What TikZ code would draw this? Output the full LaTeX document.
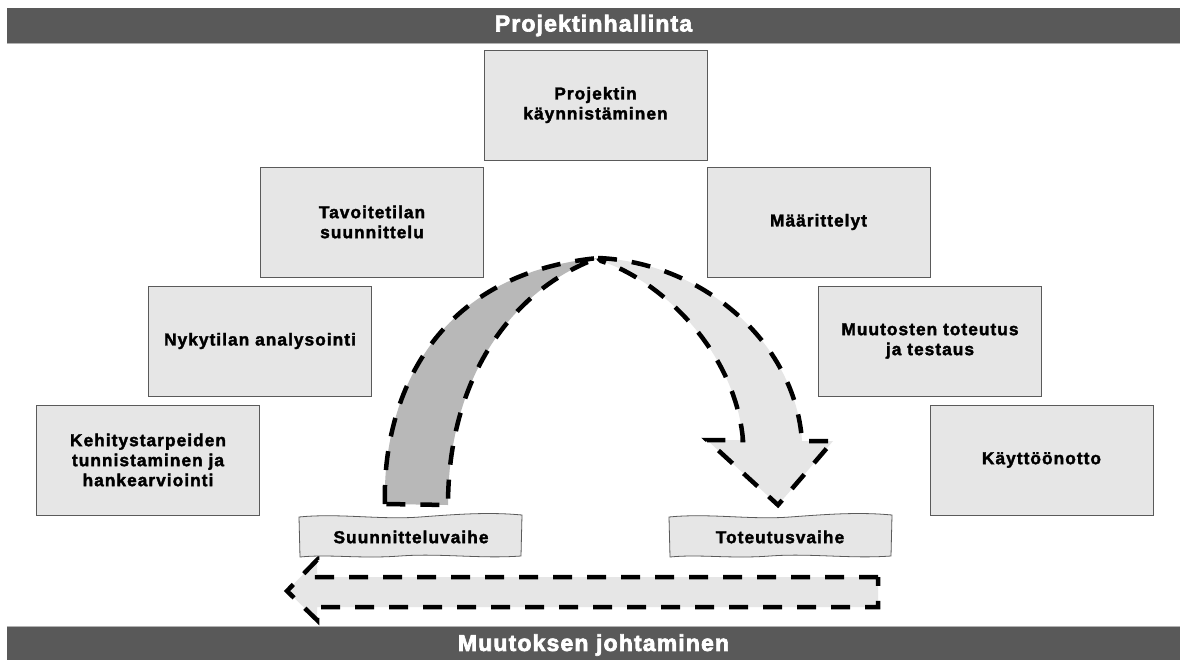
\documentclass[tikz,border=0pt]{standalone}
\usepackage{fontspec}
\setmainfont{Liberation Sans}
\newfontfamily\boxfont[LetterSpace=6,FakeBold=2]{Liberation Sans Bold}
\newfontfamily\barfont[LetterSpace=5,FakeBold=3]{Liberation Sans Bold}
\definecolor{barcol}{HTML}{595959}
\definecolor{boxfill}{HTML}{E6E6E6}
\definecolor{boxline}{HTML}{5A5A5A}
\definecolor{darkband}{HTML}{B8B8B8}
\definecolor{lightband}{HTML}{E6E6E6}
\begin{document}
\begin{tikzpicture}[x=1pt,y=-1pt,
  pbox/.style={draw=boxline, line width=1pt, fill=boxfill, minimum width=223pt,
    minimum height=110pt, inner sep=0pt, align=center,
    font=\boxfont\fontsize{17.3}{20}\selectfont},
  barnode/.style={fill=barcol, minimum width=1173pt, inner sep=0pt, text=white,
    font=\barfont\fontsize{23}{24}\selectfont},
  dsh/.style={draw=black, line width=4.5pt, dash pattern=on 19pt off 15pt},
  wavy/.style={draw=boxline, line width=0.8pt, fill=boxfill},
  wtext/.style={inner sep=0pt, font=\boxfont\fontsize{17.3}{20}\selectfont}
]
\useasboundingbox (0,0) rectangle (1186,659);
\fill[white] (0,0) rectangle (1186,659);

% bars
\node[barnode, minimum height=35pt] (top) at (593.5,25.5) {Projektinhallinta};
\node[barnode, minimum height=36pt] (bot) at (593.5,645) {Muutoksen johtaminen};
\draw[gray!60, line width=1pt] (top.south west) -- (top.south east);
\draw[gray!60, line width=1pt] (bot.north west) -- (bot.north east);

% boxes
\node[pbox] (b1) at (595.5,105) {Projektin\\käynnistäminen};
\node[pbox] (b2) at (372,222) {Tavoitetilan\\suunnittelu};
\node[pbox] (b3) at (818.5,222) {Määrittelyt};
\node[pbox] (b4) at (260,341) {Nykytilan analysointi};
\node[pbox] (b5) at (930,341) {Muutosten toteutus\\ja testaus};
\node[pbox] (b6) at (148,460) {Kehitystarpeiden\\tunnistaminen ja\\hankearviointi};
\node[pbox] (b7) at (1041.5,460) {Käyttöönotto};

% curved arrows
\coordinate (apex) at (598,258);
\path[fill=darkband] (385,504) .. controls (382,410) and (425,275) .. (apex)
  .. controls (510,290) and (448,380) .. (448,505) -- cycle;
\path[dsh] (385,504) .. controls (382,410) and (425,275) .. (apex)
  .. controls (510,290) and (448,380) .. (448,505) -- cycle;
\path[fill=lightband] (apex) .. controls (700,262) and (795,340) .. (802,441)
  -- (833,441) -- (778,505) -- (707,440) -- (743,440)
  .. controls (735,350) and (660,280) .. (601,261) -- cycle;
\path[dsh] (apex) .. controls (700,262) and (795,340) .. (802,441)
  -- (833,441) -- (778,505) -- (707,440) -- (743,440)
  .. controls (735,350) and (660,280) .. (601,261) -- cycle;

% bottom arrow
\path[fill=lightband] (878,577) -- (317,577) -- (317,560) -- (287,591) -- (317,620) -- (317,607) -- (878,607) -- cycle;
\path[dsh] (878,577) -- (317,577) -- (317,560) -- (287,591) -- (317,620) -- (317,607) -- (878,607) -- cycle;

% wavy boxes
\path[wavy] (299,517) .. controls (340,513) and (380,520) .. (420,517)
  .. controls (460,514) and (490,512) .. (522,515) -- (521,556)
  .. controls (480,559) and (440,553) .. (400,556)
  .. controls (360,559) and (330,554) .. (300,557) -- cycle;
\path[wavy] (669,517) .. controls (710,513) and (750,520) .. (790,517)
  .. controls (830,514) and (860,512) .. (892,515) -- (891,556)
  .. controls (850,559) and (810,553) .. (770,556)
  .. controls (730,559) and (700,554) .. (670,557) -- cycle;
\node[wtext] (s1) at (411,537) {Suunnitteluvaihe};
\node[wtext] (s2) at (780,537) {Toteutusvaihe};
\end{tikzpicture}
\end{document}
